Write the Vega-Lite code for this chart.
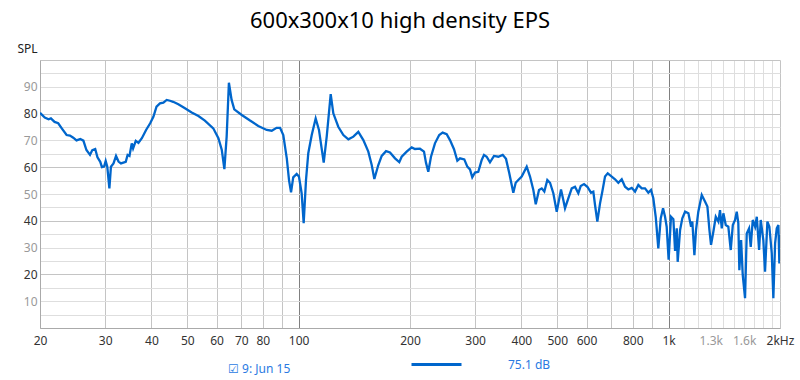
{
  "$schema": "https://vega.github.io/schema/vega-lite/v6.json",
  "width": 740,
  "height": 268,
  "autosize": {"type": "none"},
  "padding": {"left": 40, "top": 60, "right": 20, "bottom": 52},
  "background": "white",
  "config": {"view": {"stroke": null}, "font": "Noto Sans"},
  "title": {"text": "600x300x10 high density EPS", "fontSize": 22, "fontWeight": "normal", "color": "#000", "anchor": "middle", "frame": "group", "dx": -10, "baseline": "alphabetic", "offset": -8},
  "data": {"values": [
    {"f": 20, "spl": 80.3}, {"f": 20.6, "spl": 78.5}, {"f": 21.1, "spl": 77.9}, {"f": 21.4, "spl": 78.2}, {"f": 21.9, "spl": 76.9},
    {"f": 22.4, "spl": 76.4}, {"f": 22.9, "spl": 74.5}, {"f": 23.6, "spl": 72}, {"f": 24.1, "spl": 71.8}, {"f": 24.6, "spl": 71},
    {"f": 25.1, "spl": 70}, {"f": 25.7, "spl": 70.5}, {"f": 26.2, "spl": 69.9}, {"f": 26.7, "spl": 66.4}, {"f": 27.3, "spl": 64.6},
    {"f": 27.7, "spl": 66.4}, {"f": 28.2, "spl": 66.8}, {"f": 28.6, "spl": 63.7}, {"f": 29.1, "spl": 62}, {"f": 29.4, "spl": 60},
    {"f": 29.8, "spl": 60.2}, {"f": 30.1, "spl": 62.3}, {"f": 30.4, "spl": 60.2}, {"f": 30.8, "spl": 52.1}, {"f": 31.1, "spl": 60.2},
    {"f": 31.6, "spl": 61.4}, {"f": 32.1, "spl": 64.2}, {"f": 32.6, "spl": 62.1}, {"f": 33.1, "spl": 61.4}, {"f": 34.1, "spl": 62},
    {"f": 34.5, "spl": 64.6}, {"f": 34.9, "spl": 64.2}, {"f": 35.4, "spl": 68.9}, {"f": 35.7, "spl": 67}, {"f": 36.3, "spl": 69.8},
    {"f": 36.9, "spl": 69.1}, {"f": 37.7, "spl": 70.8}, {"f": 38.7, "spl": 73.9}, {"f": 39.7, "spl": 76.4}, {"f": 40.5, "spl": 78.8},
    {"f": 41.3, "spl": 82.6}, {"f": 42.2, "spl": 83.8}, {"f": 43.1, "spl": 84.1}, {"f": 44.0, "spl": 85.1}, {"f": 44.9, "spl": 84.8},
    {"f": 45.8, "spl": 84.4}, {"f": 47.3, "spl": 83.5}, {"f": 49.3, "spl": 82}, {"f": 51.4, "spl": 80.4}, {"f": 53.6, "spl": 79.1},
    {"f": 55.8, "spl": 77.4}, {"f": 58.8, "spl": 74.5}, {"f": 60.7, "spl": 70.8}, {"f": 62.0, "spl": 66.4}, {"f": 63.0, "spl": 59.3},
    {"f": 63.9, "spl": 71.4}, {"f": 64.8, "spl": 91.5}, {"f": 65.9, "spl": 85.1}, {"f": 67.0, "spl": 81.6}, {"f": 70.2, "spl": 79.5},
    {"f": 73.9, "spl": 77.4}, {"f": 77.8, "spl": 75.4}, {"f": 82.0, "spl": 73.9}, {"f": 84.6, "spl": 73.6}, {"f": 87.2, "spl": 74.7},
    {"f": 89.1, "spl": 74.7}, {"f": 90.9, "spl": 72}, {"f": 92.9, "spl": 63.3}, {"f": 94.2, "spl": 55.2}, {"f": 95.4, "spl": 50.6},
    {"f": 96.7, "spl": 56.2}, {"f": 98.8, "spl": 57.5}, {"f": 100.2, "spl": 56.5}, {"f": 101.9, "spl": 50.3}, {"f": 103.2, "spl": 39.1},
    {"f": 104.7, "spl": 55.2}, {"f": 106.2, "spl": 65.2}, {"f": 108.5, "spl": 72}, {"f": 111.2, "spl": 78.2}, {"f": 113.5, "spl": 73.9},
    {"f": 116.9, "spl": 61.7}, {"f": 119.1, "spl": 71.4}, {"f": 122.1, "spl": 87.3}, {"f": 124.1, "spl": 80.1}, {"f": 128.0, "spl": 75.1},
    {"f": 132.1, "spl": 72}, {"f": 136.3, "spl": 70.4}, {"f": 140.6, "spl": 71.4}, {"f": 145.0, "spl": 73.2}, {"f": 149.6, "spl": 70.1},
    {"f": 154.3, "spl": 65.8}, {"f": 157.6, "spl": 60.8}, {"f": 160.2, "spl": 55.6}, {"f": 164.2, "spl": 60.8}, {"f": 167.7, "spl": 64.2},
    {"f": 172.3, "spl": 66}, {"f": 176.6, "spl": 65.5}, {"f": 182.2, "spl": 63.3}, {"f": 187.1, "spl": 61.9}, {"f": 189.9, "spl": 63.9},
    {"f": 195.9, "spl": 65.8}, {"f": 202.1, "spl": 67.4}, {"f": 206.3, "spl": 66.8}, {"f": 212.8, "spl": 66.9}, {"f": 218.2, "spl": 65.8},
    {"f": 220.9, "spl": 61.7}, {"f": 224.1, "spl": 58.3}, {"f": 227.9, "spl": 63.9}, {"f": 233.6, "spl": 68.9}, {"f": 239.9, "spl": 72},
    {"f": 245.1, "spl": 72.9}, {"f": 251.3, "spl": 72.3}, {"f": 256.5, "spl": 70.1}, {"f": 263.0, "spl": 66.7}, {"f": 268.5, "spl": 62.4},
    {"f": 273.0, "spl": 63.3}, {"f": 280.4, "spl": 62.9}, {"f": 285.7, "spl": 60.2}, {"f": 290.5, "spl": 59.2}, {"f": 294.7, "spl": 56.2},
    {"f": 299.7, "spl": 58}, {"f": 305.9, "spl": 58.3}, {"f": 312.5, "spl": 62.7}, {"f": 317.0, "spl": 64.6}, {"f": 322.3, "spl": 63.9},
    {"f": 329.0, "spl": 61.8}, {"f": 337.3, "spl": 64.2}, {"f": 346.5, "spl": 63.9}, {"f": 356.1, "spl": 64.6}, {"f": 363.5, "spl": 63.1},
    {"f": 371.0, "spl": 57.7}, {"f": 380.4, "spl": 50.5}, {"f": 386.1, "spl": 54.2}, {"f": 392.4, "spl": 55.2}, {"f": 400.8, "spl": 56.5},
    {"f": 413.5, "spl": 60.2}, {"f": 422.1, "spl": 56.5}, {"f": 430.9, "spl": 51.5}, {"f": 437.4, "spl": 46.2}, {"f": 446.4, "spl": 51.5},
    {"f": 454.0, "spl": 52.1}, {"f": 461.4, "spl": 50.9}, {"f": 470.1, "spl": 55.2}, {"f": 478.1, "spl": 54.2}, {"f": 488.0, "spl": 50.3},
    {"f": 498.4, "spl": 43.4}, {"f": 505.6, "spl": 47.8}, {"f": 511.9, "spl": 51.7}, {"f": 519.3, "spl": 47.8}, {"f": 524.8, "spl": 44.7},
    {"f": 535.7, "spl": 48.4}, {"f": 547.2, "spl": 52.1}, {"f": 558.5, "spl": 52.7}, {"f": 570.1, "spl": 50.3}, {"f": 578.7, "spl": 53},
    {"f": 590.7, "spl": 53.7}, {"f": 603.0, "spl": 52.7}, {"f": 617.0, "spl": 50.5}, {"f": 625.9, "spl": 50.9}, {"f": 632.6, "spl": 45.9},
    {"f": 641.7, "spl": 39.7}, {"f": 652.6, "spl": 46.5}, {"f": 662.0, "spl": 50.9}, {"f": 673.2, "spl": 56.5}, {"f": 684.6, "spl": 57.7},
    {"f": 701.9, "spl": 56.5}, {"f": 716.4, "spl": 55.5}, {"f": 731.3, "spl": 54.2}, {"f": 746.9, "spl": 55.5}, {"f": 762.4, "spl": 52.7},
    {"f": 778.2, "spl": 51.7}, {"f": 794.9, "spl": 52.3}, {"f": 811.4, "spl": 50.9}, {"f": 828.2, "spl": 53.4}, {"f": 845.9, "spl": 52.1},
    {"f": 863.5, "spl": 52.1}, {"f": 881.4, "spl": 50.5}, {"f": 896.3, "spl": 51.5}, {"f": 909.2, "spl": 48.4}, {"f": 922.9, "spl": 41.5},
    {"f": 937.9, "spl": 29.7}, {"f": 952, "spl": 40.9}, {"f": 966, "spl": 44.7}, {"f": 978, "spl": 41.5}, {"f": 988, "spl": 37.8},
    {"f": 1000, "spl": 25.5}, {"f": 1015, "spl": 41.5}, {"f": 1030, "spl": 40.6}, {"f": 1041, "spl": 28.8}, {"f": 1052, "spl": 37.2},
    {"f": 1058, "spl": 24.7}, {"f": 1074, "spl": 36.6}, {"f": 1089, "spl": 40.9}, {"f": 1108, "spl": 43.4}, {"f": 1131, "spl": 42.8},
    {"f": 1150, "spl": 37.8}, {"f": 1159, "spl": 39.7}, {"f": 1174, "spl": 27.2}, {"f": 1186, "spl": 36.6}, {"f": 1203, "spl": 43.4},
    {"f": 1229, "spl": 49.6}, {"f": 1255, "spl": 47.1}, {"f": 1273, "spl": 45.3}, {"f": 1289, "spl": 36.6}, {"f": 1302, "spl": 31},
    {"f": 1321, "spl": 35.9}, {"f": 1341, "spl": 41.5}, {"f": 1363, "spl": 39.7}, {"f": 1377, "spl": 44}, {"f": 1392, "spl": 37.2},
    {"f": 1406, "spl": 42.8}, {"f": 1427, "spl": 38.4}, {"f": 1450, "spl": 37.8}, {"f": 1472, "spl": 29.1}, {"f": 1491, "spl": 38.4},
    {"f": 1512, "spl": 40.3}, {"f": 1528, "spl": 43.4}, {"f": 1543, "spl": 39.1}, {"f": 1553, "spl": 21.6}, {"f": 1570, "spl": 32.8},
    {"f": 1586, "spl": 19.8}, {"f": 1609, "spl": 11.1}, {"f": 1626, "spl": 35.3}, {"f": 1650, "spl": 37.2}, {"f": 1667, "spl": 30.3},
    {"f": 1688, "spl": 40.3}, {"f": 1713, "spl": 37.8}, {"f": 1731, "spl": 41.5}, {"f": 1756, "spl": 29.1}, {"f": 1774, "spl": 40.3},
    {"f": 1803, "spl": 32.8}, {"f": 1822, "spl": 21}, {"f": 1849, "spl": 39.7}, {"f": 1872, "spl": 37.8}, {"f": 1900, "spl": 27.9},
    {"f": 1919, "spl": 11.1}, {"f": 1940, "spl": 31.6}, {"f": 1960, "spl": 37.2}, {"f": 1980, "spl": 38.4}, {"f": 1992, "spl": 24.1},
    {"f": 2000, "spl": 34.7}
  ]},
  "mark": {"type": "line", "strokeWidth": 2.3, "clip": true},
  "encoding": {
    "x": {
      "field": "f", "type": "quantitative",
      "scale": {"type": "log", "domain": [20, 2000], "nice": false},
      "axis": {
        "title": null,
        "values": [20, 30, 40, 50, 60, 70, 80, 90, 100, 200, 300, 400, 500, 600, 700, 800, 900, 1000, 1100, 1200, 1300, 1400, 1500, 1600, 1700, 1800, 1900, 2000],
        "format": "d",
        "labelExpr": "datum.value == 1000 ? '1k' : datum.value == 1300 ? '1.3k' : datum.value == 1600 ? '1.6k' : datum.value == 2000 ? '2kHz' : (datum.value == 90 || datum.value == 700 || datum.value == 900 || datum.value > 1000) ? '' : datum.label",
        "labelOverlap": false, "labelFlush": false, "labelBound": false,
        "ticks": false, "labelPadding": 7, "labelFontSize": 12,
        "labelColor": {"condition": {"test": "datum.value == 1300 || datum.value == 1600", "value": "#999999"}, "value": "#333333"},
        "domainColor": "#aaaaaa",
        "grid": true,
        "gridColor": {"condition": [{"test": "datum.value == 100 || datum.value == 1000", "value": "#808080"}, {"test": "datum.value > 1000 && datum.value < 2000", "value": "#dedede"}], "value": "#c4c4c4"}
      }
    },
    "y": {
      "field": "spl", "type": "quantitative",
      "scale": {"domain": [0, 100], "nice": false},
      "axis": {
        "title": "SPL", "titleAngle": 0, "titleAlign": "center", "titleBaseline": "alphabetic",
        "titleX": -13, "titleY": -8, "titleFontSize": 12, "titleFontWeight": "normal", "titleColor": "#222222",
        "values": [0, 5, 10, 15, 20, 25, 30, 35, 40, 45, 50, 55, 60, 65, 70, 75, 80, 85, 90, 95, 100],
        "labelExpr": "datum.value % 10 == 0 && datum.value > 0 && datum.value < 100 ? datum.label : ''",
        "ticks": false, "labelPadding": 3, "labelFontSize": 12,
        "labelColor": {"condition": {"test": "datum.value % 20 == 0", "value": "#333333"}, "value": "#999999"},
        "domainColor": "#aaaaaa",
        "grid": true,
        "gridColor": {"condition": {"test": "datum.value % 20 == 0 || datum.value == 100", "value": "#c4c4c4"}, "value": "#dedede"}
      }
    },
    "color": {
      "datum": "75.1 dB",
      "scale": {"range": ["#0066cc"]},
      "legend": {
        "orient": "none", "legendX": 188, "legendY": 298, "direction": "horizontal",
        "title": "☑ 9: Jun 15", "titleOrient": "left", "titleBaseline": "top",
        "titleColor": "#2a7ae2", "titleFontSize": 12, "titleFontWeight": "normal",
        "titlePadding": 139, "symbolType": "M-5,0H5", "symbolSize": 100, "symbolStrokeWidth": 3,
        "labelOffset": 65, "labelColor": "#2a7ae2", "labelFontSize": 12
      }
    }
  }
}
